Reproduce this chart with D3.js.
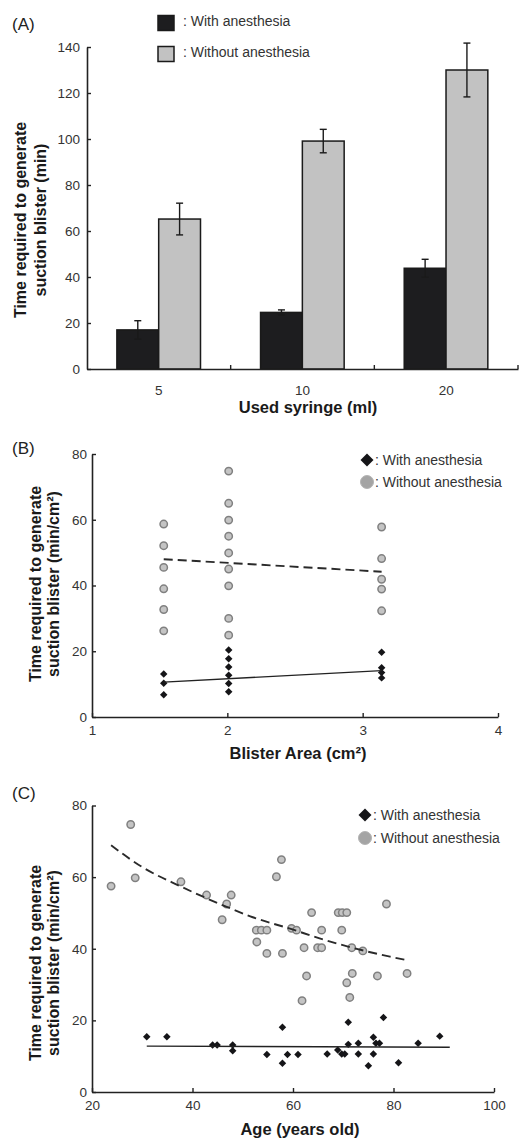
<!DOCTYPE html>
<html><head><meta charset="utf-8">
<script src="https://cdn.jsdelivr.net/npm/d3@7"></script>
<style>body{margin:0;background:#fff}svg{display:block}</style>
</head><body>
<svg id="c" width="519" height="1138"></svg>
<script>
// ---------- Panel A data ----------
const syringeCats = ["5", "10", "20"];
const seriesNames = ["With anesthesia", "Without anesthesia"];
const withMean = [17.0, 24.6, 43.8];
const withErr = [4.0, 1.1, 3.9];
const withoutMean = [65.2, 99.1, 130.0];
const withoutErr = [6.9, 5.1, 11.7];
const ticksA = [0, 20, 40, 60, 80, 100, 120, 140];

// ---------- Panel B data (blister area cm², min/cm²) ----------
const bWithout = [[1.53,58.7],[1.53,52.1],[1.53,45.5],[1.53,39.0],[1.53,32.7],[1.53,26.2],
  [2.01,74.8],[2.01,65.0],[2.01,59.9],[2.01,55.0],[2.01,49.9],[2.01,45.0],[2.01,39.9],[2.01,30.0],[2.01,24.9],
  [3.14,57.8],[3.14,48.2],[3.14,41.9],[3.14,38.9],[3.14,32.3]];
const bWith = [[1.53,13.1],[1.53,10.3],[1.53,6.8],
  [2.01,20.4],[2.01,17.7],[2.01,15.2],[2.01,12.7],[2.01,10.2],[2.01,7.7],
  [3.14,19.7],[3.14,15.0],[3.14,13.5],[3.14,11.9]];
const bWithFit = [[1.53,10.6],[3.14,14.1]];
const bWithoutFit = [[1.53,48.0],[3.14,44.2]];
const ticksBx = [1, 2, 3, 4];
const ticksBy = [0, 20, 40, 60, 80];

// ---------- Panel C data (age, min/cm²) ----------
const cWithout = [[23.8,57.5],[27.7,74.7],[28.6,59.8],[37.7,58.7],[42.8,55.0],[46.8,52.5],[47.7,55.0],
  [45.9,48.1],[52.7,45.2],[53.7,45.2],[54.8,45.2],[52.8,41.9],[54.8,38.7],[57.9,38.7],[56.7,60.1],[57.7,64.9],
  [59.7,45.7],[60.7,45.2],[63.7,50.1],[62.2,40.3],[62.7,32.4],[61.8,25.5],[64.9,40.3],[65.7,40.3],
  [65.7,45.2],[69.0,50.1],[69.8,50.1],[70.7,50.1],[69.7,45.2],[70.7,30.5],[71.3,26.4],[71.8,33.1],
  [71.7,40.3],[73.9,39.4],[76.8,32.4],[78.6,52.5],[82.7,33.1]];
const cWith = [[30.9,15.4],[34.9,15.4],[44.0,13.1],[44.9,13.1],[48.0,13.1],[48.0,11.5],[54.8,10.5],
  [57.9,18.1],[57.9,8.0],[58.9,10.5],[61.0,10.5],[66.8,10.6],[68.9,11.7],[69.7,10.6],[70.3,10.6],
  [71.0,19.5],[71.0,13.3],[73.0,13.6],[73.0,10.6],[75.0,7.3],[76.0,10.6],[76.0,15.3],[76.5,13.6],
  [77.2,13.6],[78.0,20.8],[81.0,8.2],[84.9,13.6],[89.2,15.6]];
const cWithFit = [[30.9,12.8],[91.2,12.5]];
const cWithoutFit = [[23.8,68.9],[30,62.8],[37.5,57.5],[46.8,51.7],[52,48.8],[59.4,45.6],[66,42.6],[74,39.5],[79.3,37.8],[82.7,36.8]];
const ticksCx = [20, 40, 60, 80, 100];
const ticksCy = [0, 20, 40, 60, 80];

// ---------- drawing ----------
const svg = d3.select("#c");
svg.append("rect").attr("width", 519).attr("height", 1138).attr("fill", "#fff");
const FONT = "'Liberation Sans', Arial, sans-serif";
const AX = "#222", TXT = "#333";

function styleAxis(g, fs) {
  g.select(".domain").attr("stroke", AX).attr("stroke-width", 1.6);
  g.selectAll(".tick line").attr("stroke", AX).attr("stroke-width", 1.4);
  g.selectAll(".tick text").attr("fill", TXT).style("font-family", FONT).style("font-size", fs + "px");
}
function yTitle(cx1, cx2, cy, l1, l2) {
  [[cx1, l1], [cx2, l2]].forEach(([cx, t]) => {
    svg.append("text").attr("transform", `translate(${cx},${cy}) rotate(-90)`)
      .attr("text-anchor", "middle").attr("dy", "0.35em")
      .style("font-family", FONT).style("font-size", "16px").style("font-weight", "bold")
      .attr("fill", "#1a1a1a").text(t);
  });
}
function xTitle(cx, y, t) {
  svg.append("text").attr("x", cx).attr("y", y).attr("text-anchor", "middle")
    .style("font-family", FONT).style("font-size", "16.5px").style("font-weight", "bold")
    .attr("fill", "#1a1a1a").text(t);
}
function panelLabel(x, y, t) {
  svg.append("text").attr("x", x).attr("y", y)
    .style("font-family", FONT).style("font-size", "17px").attr("fill", "#222").text(t);
}
function legendText(x, y, t) {
  svg.append("text").attr("x", x).attr("y", y).attr("dy", "0.35em")
    .style("font-family", FONT).style("font-size", "14px").attr("fill", TXT).text(t);
}
const diamond = s => d3.symbol(d3.symbolSquare, s)();

// ===== Panel A =====
const xA = d3.scaleBand().domain(syringeCats).range([87, 518]);
const bw = xA.bandwidth();
const xA1 = d3.scaleBand().domain(seriesNames).range([bw * 0.208, bw * 0.79]);
const yA = d3.scaleLinear().domain([0, 140]).range([369, 47]);
const barData = syringeCats.map((c, i) => [
  { cat: c, s: seriesNames[0], v: withMean[i], e: withErr[i] },
  { cat: c, s: seriesNames[1], v: withoutMean[i], e: withoutErr[i] }
]).flat();
const fillA = { "With anesthesia": "#1d1d1f", "Without anesthesia": "#c2c2c2" };

const gA = svg.append("g");
gA.selectAll("rect.bar").data(barData).join("rect")
  .attr("x", d => xA(d.cat) + xA1(d.s)).attr("width", xA1.bandwidth())
  .attr("y", d => yA(d.v)).attr("height", d => yA(0) - yA(d.v))
  .attr("fill", d => fillA[d.s]).attr("stroke", "#1a1a1a").attr("stroke-width", 1.5);
const eb = gA.selectAll("g.err").data(barData).join("g")
  .attr("transform", d => `translate(${xA(d.cat) + xA1(d.s) + xA1.bandwidth() / 2},0)`);
eb.append("line").attr("y1", d => yA(d.v - d.e)).attr("y2", d => yA(d.v + d.e))
  .attr("stroke", "#1a1a1a").attr("stroke-width", 1.4);
eb.append("line").attr("x1", -3.5).attr("x2", 3.5).attr("y1", d => yA(d.v + d.e)).attr("y2", d => yA(d.v + d.e))
  .attr("stroke", "#1a1a1a").attr("stroke-width", 1.4);
eb.append("line").attr("x1", -3.5).attr("x2", 3.5).attr("y1", d => yA(d.v - d.e)).attr("y2", d => yA(d.v - d.e))
  .attr("stroke", "#1a1a1a").attr("stroke-width", 1.4);

const axAx = svg.append("g").attr("transform", `translate(0,${yA(0)})`)
  .call(d3.axisBottom(xA).tickSize(0).tickPadding(16));
styleAxis(axAx, 13.5);
// group boundary ticks
axAx.selectAll("line.bt").data(syringeCats).join("line").attr("class", "bt")
  .attr("x1", d => xA(d) + bw).attr("x2", d => xA(d) + bw).attr("y1", 0).attr("y2", -4)
  .attr("stroke", AX).attr("stroke-width", 1.4);
const axAy = svg.append("g").attr("transform", `translate(87,0)`)
  .call(d3.axisLeft(yA).tickValues(ticksA).tickSizeInner(-4).tickSizeOuter(0).tickPadding(7));
styleAxis(axAy, 13.5);

yTitle(20, 40, 220, "Time required to generate", "suction blister (min)");
xTitle(308, 413, "Used syringe (ml)");
panelLabel(12, 30, "(A)");
// legend A
seriesNames.forEach((s, i) => {
  const cy = [23, 54][i];
  svg.append("rect").attr("x", 158).attr("y", cy - 7.5).attr("width", 16).attr("height", 15)
    .attr("fill", fillA[s]).attr("stroke", "#1a1a1a").attr("stroke-width", 1.5);
  legendText(183, cy - 2, ": " + s);
});

// ===== scatter panel helper =====
function scatterPanel(cfg) {
  const x = d3.scaleLinear().domain(cfg.xd).range(cfg.xr);
  const y = d3.scaleLinear().domain(cfg.yd).range(cfg.yr);
  const g = svg.append("g");
  g.selectAll("circle").data(cfg.without).join("circle")
    .attr("cx", d => x(d[0])).attr("cy", d => y(d[1])).attr("r", 3.7)
    .attr("fill", "#c4c4c4").attr("stroke", "#808080").attr("stroke-width", 1.5);
  const line = d3.line().x(d => x(d[0])).y(d => y(d[1])).curve(d3.curveMonotoneX);
  g.append("path").attr("d", line(cfg.withoutFit)).attr("fill", "none")
    .attr("stroke", "#2a2a2a").attr("stroke-width", 1.9).attr("stroke-dasharray", "9,5");
  g.selectAll("path.dm").data(cfg.with).join("path").attr("class", "dm")
    .attr("d", diamond(28))
    .attr("transform", d => `translate(${x(d[0])},${y(d[1])}) rotate(45)`)
    .attr("fill", "#151518");
  g.append("path").attr("d", line(cfg.withFit)).attr("fill", "none")
    .attr("stroke", "#222").attr("stroke-width", 1.4);

  const ax = svg.append("g").attr("transform", `translate(0,${cfg.yr[0]})`)
    .call(d3.axisBottom(x).tickValues(cfg.xt).tickFormat(d3.format("d"))
      .tickSizeInner(-4).tickSizeOuter(0).tickPadding(8));
  styleAxis(ax, 13.5);
  const ay = svg.append("g").attr("transform", `translate(${cfg.xr[0]},0)`)
    .call(d3.axisLeft(y).tickValues(cfg.yt).tickFormat(d3.format("d"))
      .tickSizeInner(-4).tickSizeOuter(0).tickPadding(5));
  styleAxis(ay, 13.5);

  // legend
  const [lx, ly1, ly2] = cfg.leg;
  svg.append("path").attr("d", diamond(85)).attr("transform", `translate(${lx},${ly1}) rotate(45)`)
    .attr("fill", "#151518");
  svg.append("circle").attr("cx", lx).attr("cy", ly2).attr("r", 6.5)
    .attr("fill", "#a4a4a4").attr("stroke", "#b4b4b4").attr("stroke-width", 1);
  legendText(lx + 8, ly1, ": " + seriesNames[0]);
  legendText(lx + 8, ly2, ": " + seriesNames[1]);
}

// ===== Panel B =====
scatterPanel({
  xd: [1, 4], xr: [92, 498], yd: [0, 80], yr: [717, 454],
  without: bWithout, with: bWith, withFit: bWithFit, withoutFit: bWithoutFit,
  xt: ticksBx, yt: ticksBy, leg: [367, 460, 482]
});
yTitle(35, 53, 584, "Time required to generate", "suction blister (min/cm²)");
xTitle(298, 759, "Blister Area (cm²)");
panelLabel(12, 454, "(B)");

// ===== Panel C =====
scatterPanel({
  xd: [20, 100], xr: [92, 494], yd: [0, 80], yr: [1092, 805.5],
  without: cWithout, with: cWith, withFit: cWithFit, withoutFit: cWithoutFit,
  xt: ticksCx, yt: ticksCy, leg: [365, 815, 838]
});
yTitle(35, 53, 963, "Time required to generate", "suction blister (min/cm²)");
xTitle(300, 1135, "Age (years old)");
panelLabel(12, 799, "(C)");
</script>
</body></html>
